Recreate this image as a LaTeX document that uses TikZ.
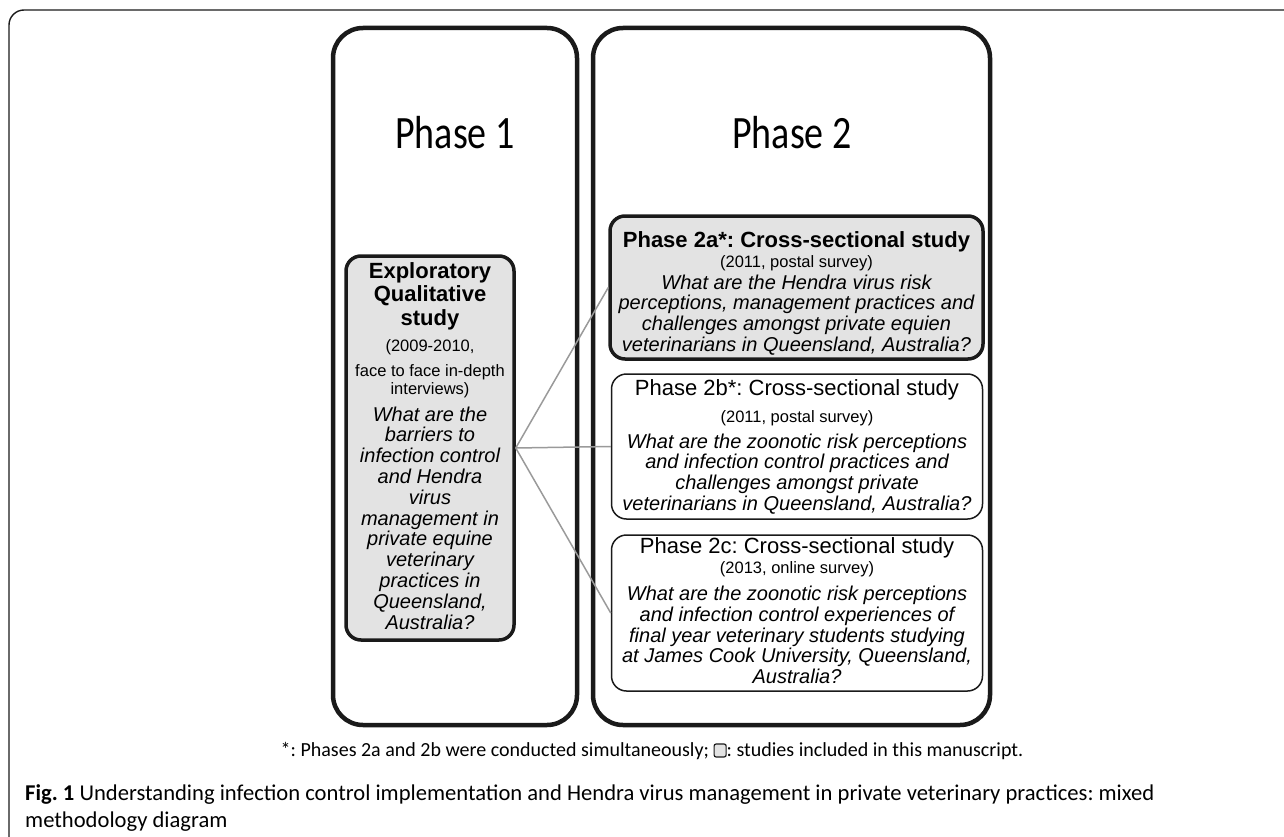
\documentclass[tikz,border=0pt]{standalone}
\usepackage{fontspec}
\setmainfont{Liberation Sans}
\newfontfamily\calfont{Carlito}
\definecolor{boxgray}{HTML}{E3E3E3}
\definecolor{edgedark}{HTML}{1A1A1A}
\definecolor{conngray}{HTML}{9A9A9A}
\newcommand{\fsz}[2]{\fontsize{#1}{#2}\selectfont}
\newcommand{\tallit}[1]{\scalebox{1}[1.22]{#1}}
\frenchspacing
\begin{document}
\begin{tikzpicture}[x=1pt,y=-1pt,
  frame/.style={draw=edgedark, line width=1.4pt, rounded corners=15pt},
  phasebox/.style={draw=edgedark, line width=4.5pt, rounded corners=30pt, inner sep=0pt},
  graybox/.style={draw=edgedark, fill=boxgray, line width=3.5pt, rounded corners=15pt, inner sep=0pt},
  whitebox/.style={draw=edgedark, fill=white, line width=1.5pt, rounded corners=15pt, inner sep=0pt},
  conn/.style={draw=conngray, line width=1.5pt},
  phasetitle/.style={font=\calfont\fsz{38}{40}, inner sep=0pt},
  btitle/.style={font=\bfseries\fsz{22}{23.5}, align=center, inner sep=0pt},
  rtitle/.style={font=\fsz{22}{23.5}, align=center, inner sep=0pt},
  sub/.style={font=\fsz{16.5}{18}, align=center, inner sep=0pt},
  ques/.style={font=\itshape\fsz{20}{20.8}, align=center, inner sep=0pt},
  note/.style={font=\calfont\fsz{20}{22}, inner sep=0pt},
  capt/.style={font=\calfont\fsz{22.6}{27}, align=left, inner sep=0pt, anchor=west}
]
\useasboundingbox (0,0) rectangle (1284,837);
% outer frame (only top and left edges visible)
\coordinate (frA) at (9,845);
\coordinate (frB) at (9,10);
\coordinate (frC) at (1295,10);
\draw[frame] (frA) -- (frB) -- (frC);

% phase columns
\node[phasebox, minimum width=244pt, minimum height=697pt] (ph1) at (455,376.5) {};
\node[phasebox, minimum width=397pt, minimum height=697pt] (ph2) at (791.5,376.5) {};
\node[phasetitle] (ph1t) at (455,133) {\tallit{Phase 1}};
\node[phasetitle] (ph2t) at (792,133) {\tallit{Phase 2}};

% exploratory box
\node[graybox, minimum width=168pt, minimum height=384pt] (expl) at (430,448) {};
\node[btitle] (explt) at (430,296) {Exploratory\\Qualitative\\study};
\node[sub] (expls1) at (430,347) {(2009-2010,};
\node[sub] (expls2) at (430,381) {face to face in-depth\\interviews)};
\node[ques] (explq) at (430,518) {What are the\\barriers to\\infection control\\and Hendra\\virus\\management in\\private equine\\veterinary\\practices in\\Queensland,\\Australia?};

% phase 2a
\node[graybox, minimum width=373pt, minimum height=143pt] (b2a) at (796.5,287.5) {};
\node[btitle] (b2at) at (796.5,242) {Phase 2a*: Cross-sectional study};
\node[sub] (b2as) at (796.5,263) {(2011, postal survey)};
\node[ques] (b2aq) at (796.5,315) {What are the Hendra virus risk\\perceptions, management practices and\\challenges amongst private equien\\veterinarians in Queensland, Australia?};

% phase 2b
\node[whitebox, minimum width=371pt, minimum height=145pt] (b2b) at (797,446.5) {};
\node[rtitle] (b2bt) at (797,390) {Phase 2b*: Cross-sectional study};
\node[sub] (b2bs) at (797,418) {(2011, postal survey)};
\node[ques] (b2bq) at (797,474) {What are the zoonotic risk perceptions\\and infection control practices and\\challenges amongst private\\veterinarians in Queensland, Australia?};

% phase 2c
\node[whitebox, minimum width=371pt, minimum height=156pt] (b2c) at (797,613) {};
\node[rtitle] (b2ct) at (797,548) {Phase 2c: Cross-sectional study};
\node[sub] (b2cs) at (797,569) {(2013, online survey)};
\node[ques] (b2cq) at (797,635) {What are the zoonotic risk perceptions\\and infection control experiences of\\final year veterinary students studying\\at James Cook University, Queensland,\\Australia?};

% connectors
\draw[conn] (expl.east) -- (b2a.west);
\draw[conn] (expl.east) -- (b2b.west);
\draw[conn] (expl.east) -- (b2c.west);

% footnote
\node[note] (fn) at (652,751) {*: Phases 2a and 2b were conducted simultaneously;~\tikz[baseline=0pt]{\draw[draw=edgedark, fill=boxgray, line width=1.2pt, rounded corners=2pt] (0pt,-0.5pt) rectangle (12pt,12.5pt);}: studies included in this manuscript.};

% caption
\node[capt] (cap1) at (25,795) {\textbf{Fig. 1} Understanding infection control implementation and Hendra virus management in private veterinary practices: mixed};
\node[capt] (cap2) at (25,822) {methodology diagram};
\end{tikzpicture}
\end{document}
